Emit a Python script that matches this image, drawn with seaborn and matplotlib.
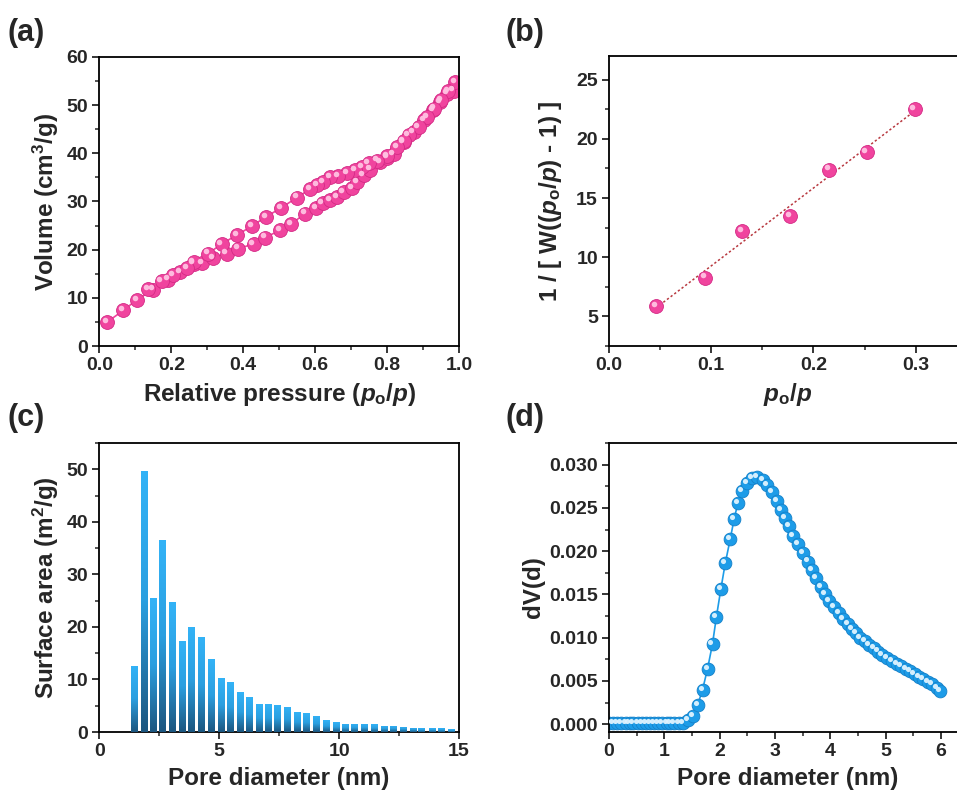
import numpy as np
import seaborn as sns
import matplotlib.pyplot as plt
import matplotlib.transforms as mtransforms
from matplotlib.colors import LinearSegmentedColormap
from matplotlib.ticker import MultipleLocator

# (a) N2 adsorption / desorption isotherm
ads_p = [0.022, 0.067, 0.104, 0.150, 0.192, 0.224, 0.262, 0.285, 0.317, 0.354, 0.386,
         0.429, 0.460, 0.502, 0.533, 0.572, 0.603, 0.621, 0.642, 0.662, 0.679, 0.702,
         0.716, 0.735, 0.753, 0.781, 0.800, 0.818, 0.846, 0.874, 0.902, 0.929, 0.948,
         0.967, 0.985]
ads_v = [5.0, 7.4, 9.6, 11.7, 13.8, 15.4, 17.1, 17.2, 18.3, 19.2, 20.2,
         21.2, 22.5, 24.0, 25.3, 27.5, 28.7, 29.6, 30.3, 30.9, 32.0, 32.7,
         34.0, 35.4, 36.6, 38.2, 39.1, 39.9, 42.4, 44.4, 46.9, 48.9, 50.7,
         52.4, 53.0]
des_p = [0.990, 0.970, 0.950, 0.930, 0.911, 0.888, 0.860, 0.846, 0.827, 0.800, 0.772,
         0.749, 0.730, 0.711, 0.688, 0.665, 0.642, 0.623, 0.605, 0.586, 0.549, 0.506,
         0.463, 0.424, 0.384, 0.340, 0.303, 0.262, 0.243, 0.206, 0.173, 0.136]
des_v = [54.8, 52.9, 51.0, 49.3, 47.5, 45.5, 43.7, 42.6, 41.3, 39.4, 38.5,
         37.9, 37.2, 36.5, 35.9, 35.3, 35.1, 34.1, 33.4, 32.6, 30.8, 28.7,
         26.8, 24.9, 23.1, 21.2, 19.2, 17.4, 16.1, 14.7, 13.4, 11.8]

# (b) BET plot
bet_p = [0.046, 0.094, 0.130, 0.177, 0.215, 0.252, 0.299]
bet_y = [5.85, 8.28, 12.2, 13.5, 17.4, 18.9, 22.5]

# (c) surface area per pore size
pore_d = [1.45, 1.87, 2.26, 2.64, 3.06, 3.45, 3.85, 4.24, 4.66, 5.08, 5.47, 5.87,
          6.26, 6.67, 7.06, 7.44, 7.85, 8.26, 8.65, 9.07, 9.45, 9.87, 10.25, 10.64,
          11.05, 11.47, 11.87, 12.26, 12.66, 13.08, 13.45, 13.87, 14.26, 14.67]
surf_area = [12.6, 49.7, 25.5, 36.5, 24.7, 17.4, 20.0, 18.0, 13.8, 10.2, 9.5, 7.6,
             6.7, 5.3, 5.3, 5.2, 4.8, 3.8, 3.6, 3.1, 2.2, 1.9, 1.6, 1.6,
             1.6, 1.5, 1.2, 1.2, 1.0, 0.8, 0.7, 0.7, 0.7, 0.5]

# (d) pore size distribution
psd_d = [0.00, 0.07, 0.15, 0.22, 0.30, 0.37, 0.44, 0.52, 0.59, 0.67, 0.74, 0.81, 0.89,
         0.96, 1.04, 1.11, 1.18, 1.26, 1.33,
         1.42, 1.52, 1.60, 1.69, 1.78, 1.87, 1.94, 2.02, 2.10, 2.19, 2.26, 2.33, 2.41,
         2.49, 2.58, 2.67,
         2.78, 2.86, 2.94, 3.03, 3.11, 3.18, 3.26, 3.33, 3.42, 3.50, 3.59, 3.67, 3.74,
         3.83, 3.91, 3.98, 4.07, 4.15, 4.23, 4.31, 4.39, 4.47, 4.54, 4.62, 4.70, 4.78,
         4.86, 4.94, 5.02, 5.11, 5.20, 5.28, 5.36, 5.44, 5.52, 5.60, 5.68, 5.76, 5.84,
         5.92, 5.98]
psd_dv = [0.0001, 0.0001, 0.0001, 0.0001, 0.0001, 0.0001, 0.0001, 0.0001, 0.0001,
          0.0001, 0.0001, 0.0001, 0.0001, 0.0001, 0.0001, 0.0001, 0.0001, 0.0001, 0.0001,
          0.0005, 0.0010, 0.0022, 0.0040, 0.0064, 0.0093, 0.0124, 0.0156, 0.0186, 0.0214,
          0.0237, 0.0256, 0.0269, 0.0279, 0.0285, 0.0286,
          0.0282, 0.0276, 0.0268, 0.02575, 0.0248, 0.0238, 0.0229, 0.0218, 0.0208, 0.0198,
          0.0188, 0.0178, 0.0169, 0.0159, 0.0150, 0.0142, 0.0135, 0.0128, 0.0122, 0.0116,
          0.0110, 0.0105, 0.0100, 0.0096, 0.0092, 0.0088, 0.0084, 0.0080, 0.0077, 0.0073,
          0.0070, 0.0067, 0.0064, 0.0061, 0.0058, 0.0055, 0.0052, 0.0049, 0.0046, 0.0042,
          0.0038]

PINK, PINK_EDGE, PINK_HI = '#f0449e', '#d42a85', '#ffc2e2'
BLUE, BLUE_EDGE, BLUE_HI = '#1d9ce8', '#1580c8', '#dff3ff'

sns.set_style('ticks')
plt.rcParams['font.family'] = ['Liberation Sans', 'DejaVu Sans']
plt.rcParams.update({
    'font.weight': 'bold',
    'axes.labelweight': 'bold',
    'axes.linewidth': 1.3,
    'axes.edgecolor': 'black',
    'xtick.direction': 'out', 'ytick.direction': 'out',
    'xtick.major.size': 5, 'ytick.major.size': 5,
    'xtick.minor.size': 3, 'ytick.minor.size': 3,
    'xtick.major.width': 1.3, 'ytick.major.width': 1.3,
    'xtick.minor.width': 1.1, 'ytick.minor.width': 1.1,
    'xtick.labelsize': 14, 'ytick.labelsize': 14,
    'axes.labelsize': 17.5,
    'mathtext.fontset': 'custom',
    'mathtext.rm': 'Liberation Sans:bold',
    'mathtext.bf': 'Liberation Sans:bold',
    'mathtext.it': 'Liberation Sans:bold:italic',
})


def spheres(ax, x, y, color, edge, light, size, lw=1.2):
    # ball-like markers: filled circle + small offset highlight
    sns.lineplot(x=x, y=y, sort=False, estimator=None, ax=ax, color=color, lw=lw,
                 marker='o', markersize=size, markerfacecolor=color,
                 markeredgecolor=edge, markeredgewidth=0.6)
    shift = mtransforms.ScaledTranslation(-size * 0.16 / 72, size * 0.16 / 72,
                                          ax.figure.dpi_scale_trans)
    ax.scatter(x, y, s=(size * 0.4) ** 2, color=light, lw=0, alpha=0.95,
               transform=ax.transData + shift, zorder=5)


def style_ticks(ax, xmaj, ymaj):
    ax.xaxis.set_major_locator(MultipleLocator(xmaj))
    ax.xaxis.set_minor_locator(MultipleLocator(xmaj / 2))
    ax.yaxis.set_major_locator(MultipleLocator(ymaj))
    ax.yaxis.set_minor_locator(MultipleLocator(ymaj / 2))
    ax.tick_params(which='both', top=False, right=False)
    ax.tick_params(axis='both', which='major', pad=3)


fig = plt.figure(figsize=(9.57, 7.98), dpi=100)
ax_a = fig.add_axes([0.1038, 0.5664, 0.3758, 0.3622])
ax_b = fig.add_axes([0.6364, 0.5664, 0.3738, 0.3634])
ax_c = fig.add_axes([0.1038, 0.0827, 0.3758, 0.3622])
ax_d = fig.add_axes([0.6364, 0.0827, 0.3730, 0.3622])

# (a)
spheres(ax_a, ads_p, ads_v, PINK, PINK_EDGE, PINK_HI, 10)
spheres(ax_a, des_p, des_v, PINK, PINK_EDGE, PINK_HI, 10)
ax_a.set_xlim(0, 1.0)
ax_a.set_ylim(0, 60)
style_ticks(ax_a, 0.2, 10)
ax_a.xaxis.set_major_formatter(plt.FormatStrFormatter('%.1f'))
ax_a.set_xlabel(r'Relative pressure ($p_{\mathrm{o}}$/$p$)', labelpad=5)
ax_a.set_ylabel(r'Volume (cm$^{3}$/g)', labelpad=4)

# (b)
sns.regplot(x=bet_p, y=bet_y, ax=ax_b, scatter=False, ci=None, truncate=True,
            line_kws=dict(color='#b8383f', lw=1.1, ls=(0, (1.5, 1.5))))
spheres(ax_b, bet_p, bet_y, PINK, PINK_EDGE, PINK_HI, 10, lw=0)
ax_b.set_xlim(0, 0.35)
ax_b.set_ylim(2.5, 27)
style_ticks(ax_b, 0.1, 5)
ax_b.xaxis.set_major_formatter(plt.FormatStrFormatter('%.1f'))
ax_b.set_xlabel(r'$p_{\mathrm{o}}$/$p$', labelpad=5)
ax_b.set_ylabel(r'1 / [ W(($p_{\mathrm{o}}$/$p$) - 1) ]', labelpad=9)

# (c) bars with a vertical gradient
sns.barplot(x=pore_d, y=surf_area, ax=ax_c, native_scale=True, orient='x',
            width=0.75, errorbar=None, color='#1f6fa8', linewidth=0)
bar_cmap = LinearSegmentedColormap.from_list('bar', ['#1c567f', '#2b9fe0', '#33b3f7'])
grad = np.linspace(0, 1, 256).reshape(-1, 1)
for patch in list(ax_c.patches):
    x0, y0 = patch.get_x(), patch.get_y()
    w, h = patch.get_width(), patch.get_height()
    im = ax_c.imshow(grad, cmap=bar_cmap, origin='lower', aspect='auto',
                     extent=[x0, x0 + w, y0, y0 + h], zorder=3)
    im.set_clip_path(patch)
ax_c.set_xlim(0, 15)
ax_c.set_ylim(0, 55)
style_ticks(ax_c, 5, 10)
ax_c.set_xlabel('Pore diameter (nm)', labelpad=5)
ax_c.set_ylabel(r'Surface area (m$^{2}$/g)', labelpad=4)

# (d)
spheres(ax_d, psd_d, psd_dv, BLUE, BLUE_EDGE, BLUE_HI, 9.2)
ax_d.set_xlim(0, 6.45)
ax_d.set_ylim(-0.0009, 0.0325)
style_ticks(ax_d, 1, 0.005)
ax_d.yaxis.set_major_formatter(plt.FormatStrFormatter('%.3f'))
ax_d.set_xlabel('Pore diameter (nm)', labelpad=5)
ax_d.set_ylabel('dV(d)', labelpad=3)

for ax in (ax_a, ax_b, ax_c, ax_d):
    for lab in ax.get_xticklabels() + ax.get_yticklabels():
        lab.set_fontweight('bold')

for txt, x, y in [('(a)', 0.008, 0.978), ('(b)', 0.528, 0.978),
                  ('(c)', 0.008, 0.495), ('(d)', 0.528, 0.495)]:
    fig.text(x, y, txt, fontsize=22, fontweight='bold', va='top', ha='left')

fig.savefig('out.png', dpi=100)
